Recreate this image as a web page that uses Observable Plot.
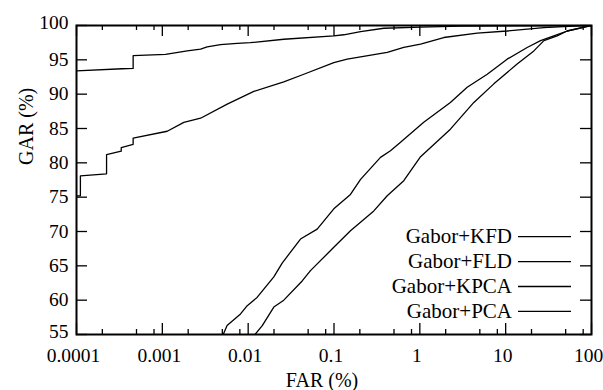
<!DOCTYPE html>
<html><head><meta charset="utf-8">
<script src="https://cdn.jsdelivr.net/npm/d3@7"></script>
<script src="https://cdn.jsdelivr.net/npm/@observablehq/plot@0.6"></script>
</head><body style="margin:0;font-family:'Liberation Serif';font-size:20px;background:#fff">
<div id="d"></div>
<script>
// ---- data ----
const seriesNames = ["Gabor+KFD", "Gabor+FLD", "Gabor+KPCA", "Gabor+PCA"];

const kfdFar = [0.0001, 0.00034, 0.000457, 0.000457, 0.00109, 0.00195, 0.00279, 0.00333, 0.00476, 0.00745, 0.0106, 0.026, 0.0995, 0.13, 0.204, 0.38, 1.02, 3, 100];
const kfdGar = [93.4, 93.7, 93.75, 95.6, 95.8, 96.3, 96.55, 96.9, 97.2, 97.4, 97.5, 98.0, 98.5, 98.65, 99.1, 99.6, 99.75, 99.9, 100];

const fldFar = [0.0001, 0.000111, 0.000111, 0.000224, 0.000224, 0.000332, 0.000332, 0.000457, 0.000457, 0.00114, 0.00178, 0.00279, 0.0057, 0.01164, 0.026, 0.0445, 0.0995, 0.1426, 0.417, 0.65, 1.02, 1.9, 4.66, 10.4, 27.9, 80.7, 100];
const fldGar = [75.2, 75.2, 78.1, 78.4, 81.2, 81.7, 82.2, 82.7, 83.6, 84.6, 85.9, 86.5, 88.55, 90.4, 91.8, 92.9, 94.6, 95.1, 96.1, 96.8, 97.3, 98.25, 98.9, 99.2, 99.7, 100, 100];

const kpcaFar = [0.00512, 0.00568, 0.00815, 0.00975, 0.0127, 0.0199, 0.0249, 0.0407, 0.0637, 0.0995, 0.1556, 0.204, 0.348, 0.455, 0.596, 1.11, 2.27, 3.56, 6.1, 10.4, 17.8, 25.5, 36.4, 52.1, 100];
const kpcaGar = [55.0, 56.3, 58.0, 59.2, 60.4, 63.4, 65.4, 68.9, 70.35, 73.3, 75.4, 77.6, 80.8, 81.75, 83.0, 85.9, 88.8, 91.0, 92.9, 95.1, 96.8, 97.8, 98.5, 99.2, 100];

const pcaFar = [0.012, 0.0146, 0.0199, 0.026, 0.0426, 0.0532, 0.0995, 0.1556, 0.291, 0.417, 0.65, 1.02, 2.27, 4.26, 7.28, 13.6, 21.3, 27.9, 39.8, 52.1, 100];
const pcaGar = [55.0, 56.3, 59.0, 60.0, 62.8, 64.3, 67.7, 70.1, 73.0, 75.2, 77.4, 80.9, 84.9, 88.8, 91.5, 94.4, 96.3, 97.8, 98.5, 99.2, 100];

const xTicks = [0.0001, 0.001, 0.01, 0.1, 1, 10, 100];
const xTickLabels = ["0.0001", "0.001", "0.01", "0.1", "1", "10", "100"];
const xMinorTicks = [0.0002, 0.0005, 0.0008, 0.002, 0.005, 0.008, 0.02, 0.05, 0.08, 0.2, 0.5, 0.8, 2, 5, 8, 20, 50, 80];
const yTicks = [55, 60, 65, 70, 75, 80, 85, 90, 95, 100];
const xLabel = "FAR (%)";
const yLabel = "GAR (%)";

// ---- build table ----
const seriesFar = [kfdFar, fldFar, kpcaFar, pcaFar];
const seriesGar = [kfdGar, fldGar, kpcaGar, pcaGar];
const rows = seriesNames.flatMap((name, i) => seriesFar[i].map((f, j) => ({name, far: f, gar: seriesGar[i][j]})));

const W = 603, H = 390, mL = 76, mR = 12, mT = 25, mB = 56;
const fw = W - mL - mR, fh = H - mT - mB;
const major = 11, minor = 5;
const xFmt = d => xTickLabels[xTicks.indexOf(d)];
const FONT = "Liberation Serif";

// legend drawn inside the SVG (custom function mark)
function legendMark() {
  const g = d3.create("svg:g").attr("font-family", FONT).attr("font-size", 21);
  seriesNames.forEach((n, i) => {
    const cy = 236.7 + 24.9 * i;
    g.append("text").attr("x", 512).attr("y", cy).attr("dy", "0.32em")
      .attr("text-anchor", "end").attr("fill", "#000").style("font-family", FONT).text(n);
    g.append("line").attr("x1", 518).attr("x2", 571).attr("y1", cy).attr("y2", cy)
      .attr("stroke", "#000").attr("stroke-width", 1.3);
  });
  return g.node();
}

const chart = Plot.plot({
  width: W, height: H,
  marginLeft: mL, marginRight: mR, marginTop: mT, marginBottom: mB,
  x: {type: "log", domain: [0.0001, 100]},
  y: {type: "linear", domain: [55, 100]},
  marks: [
    Plot.tickX(xTicks, {x: d => d, insetTop: fh - major, strokeWidth: 1.3}),
    Plot.tickX(xTicks, {x: d => d, insetBottom: fh - major, strokeWidth: 1.3}),
    Plot.tickX(xMinorTicks, {x: d => d, insetTop: fh - minor, strokeWidth: 1.3}),
    Plot.tickX(xMinorTicks, {x: d => d, insetBottom: fh - minor, strokeWidth: 1.3}),
    Plot.tickY(yTicks, {y: d => d, insetRight: fw - major, strokeWidth: 1.3}),
    Plot.tickY(yTicks, {y: d => d, insetLeft: fw - major, strokeWidth: 1.3}),
    Plot.line(rows, {x: "far", y: "gar", z: "name", stroke: "#000", strokeWidth: 1.3, clip: true}),
    Plot.frame({stroke: "#000", strokeWidth: 2}),
    Plot.axisX(xTicks, {tickSize: 0, tickPadding: 14, tickFormat: xFmt, dx: -3, label: null, fontSize: 19.5, fontFamily: FONT}),
    Plot.axisY(yTicks.filter(d => d !== 55 && d !== 100), {tickSize: 0, tickPadding: 8, label: null, fontSize: 19.5, fontFamily: FONT}),
    Plot.axisY([55, 100], {tickSize: 0, tickPadding: 8, dy: -3, label: null, fontSize: 19.5, fontFamily: FONT}),
    Plot.text([xLabel], {frameAnchor: "bottom", text: d => d, dy: 52, dx: -12, lineAnchor: "bottom", fontSize: 20, fontFamily: FONT}),
    Plot.text([yLabel], {frameAnchor: "left", text: d => d, rotate: -90, dx: -44, dy: -15, lineAnchor: "bottom", fontSize: 20, fontFamily: FONT}),
    legendMark
  ]
});

document.getElementById("d").appendChild(chart);
</script>
</body></html>
